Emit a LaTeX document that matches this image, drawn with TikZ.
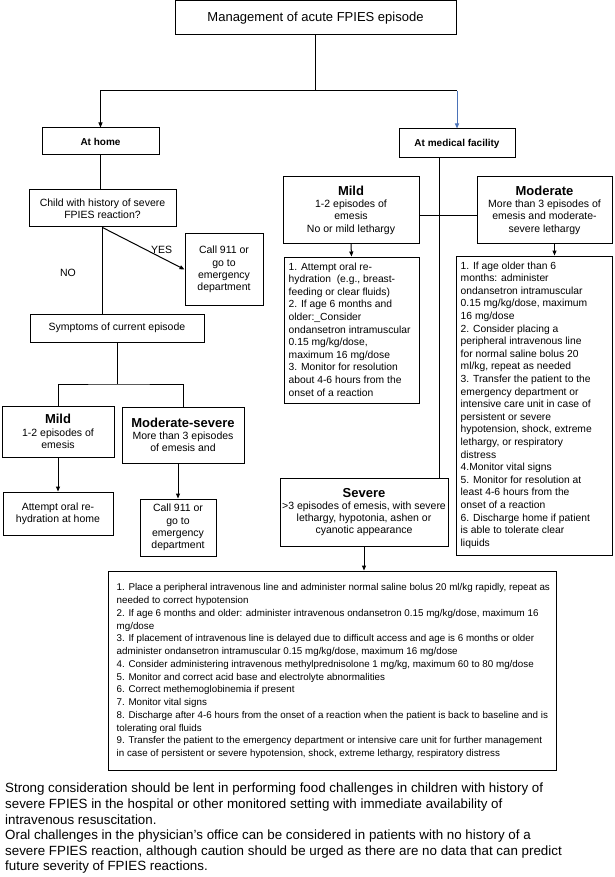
\documentclass[tikz,border=0pt]{standalone}
\usepackage{fontspec}
\setmainfont{Liberation Sans}
\usetikzlibrary{arrows.meta}
\definecolor{bluec}{HTML}{4A72B8}
\newcommand{\fsz}[2]{\fontsize{#1}{#2}\selectfont}
\newcommand{\hd}[1]{{\fsz{13}{15}\bfseries #1}}
\begin{document}
\begin{tikzpicture}[x=1pt,y=-1pt,
  bx/.style={draw, line width=1pt, align=center, inner sep=1pt, font=\fsz{10.5}{12.3}},
  lbl/.style={font=\fsz{10.5}{12.3}, inner sep=1pt},
  txt/.style={align=left, inner sep=0pt, anchor=north west, font=\fsz{10.3}{12.6}},
  ln/.style={line width=1pt},
  arr/.style={line width=1pt, -{Triangle[length=5pt,width=4pt]}}]
\useasboundingbox (0,0) rectangle (614,877);
\fill[white] (0,0) rectangle (614,877);

% top
\node[bx, minimum width=281, minimum height=34, font=\fsz{13}{15}] (title) at (315.5,18) {Management of acute FPIES episode};
\node[bx, minimum width=117, minimum height=27, font=\fsz{10}{12}\bfseries] (home) at (100.5,141.5) {At home};
\node[bx, minimum width=116, minimum height=29, font=\fsz{10}{12}\bfseries] (medical) at (457,143.5) {At medical facility};
\coordinate (hj) at (315.5,91);
\draw[ln] (title.south) -- (hj);
\draw[arr] (hj) -| (home.north);
\draw[ln] (hj) -- (hj -| medical.north);
\draw[arr, bluec] (hj -| medical.north) -- (medical.north);

% home branch
\node[bx, minimum width=147, minimum height=37] (child) at (102.5,208.5) {Child with history of severe\\FPIES reaction?};
\node[bx, minimum width=78, minimum height=71] (call1) at (224,269.5) {Call 911 or\\go to\\emergency\\department};
\node[bx, minimum width=174, minimum height=28] (symptoms) at (117,328) {Symptoms of current episode};
\draw[ln] (home.south) -- (home.south |- child.north);
\draw[ln] (child.south) -- (child.south |- symptoms.north);
\draw[arr] (child.south) -- (call1.west) node[lbl, pos=0.72, above=3pt] (yes) {YES};
\node[lbl] (no) at (68,273) {NO};

\node[bx, minimum width=112, minimum height=51] (mildh) at (58,431.5) {\hd{Mild}\\1-2 episodes of\\emesis};
\node[bx, minimum width=122, minimum height=56] (modsev) at (183,435) {\hd{Moderate-severe}\\More than 3 episodes\\of emesis and};
\node[bx, minimum width=110, minimum height=43] (attempt) at (58,513.5) {Attempt oral re-\\hydration at home};
\node[bx, minimum width=76, minimum height=57] (call2) at (178,527.5) {Call 911 or\\go to\\emergency\\department};
\coordinate (sj) at (117,384);
\draw[ln] (symptoms.south) -- (sj);
\draw[ln] (mildh.north) |- (sj) -| (modsev.north);
\draw[arr] (mildh.south) -- (attempt.north);
\draw[arr] (call2.north |- modsev.south) -- (call2.north);

% facility branch
\node[bx, minimum width=136, minimum height=66] (mildf) at (351,210) {\hd{Mild}\\1-2 episodes of\\emesis\\No or mild lethargy};
\node[bx, minimum width=135, minimum height=66] (modf) at (544.5,210) {\hd{Moderate}\\More than 3 episodes of\\emesis and moderate-\\severe lethargy};
\node[draw, line width=1pt, minimum width=135, minimum height=146, inner sep=0pt] (mildlist) at (351.5,330) {};
\node[txt] (mildlisttxt) at ([shift={(5pt,-6pt)}]mildlist.north west) {1. Attempt oral re-\\
hydration \ (e.g., breast-\\
feeding or clear fluids)\\
2. If age 6 months and\\
older:\_Consider\\
ondansetron intramuscular\\
0.15 mg/kg/dose,\\
maximum 16 mg/dose\\
3. Monitor for resolution\\
about 4-6 hours from the\\
onset of a reaction};
\node[draw, line width=1pt, minimum width=156, minimum height=299, inner sep=0pt] (modlist) at (534,405.5) {};
\node[txt] (modlisttxt) at ([shift={(5pt,-6pt)}]modlist.north west) {1. If age older than 6\\
months: administer\\
ondansetron intramuscular\\
0.15 mg/kg/dose, maximum\\
16 mg/dose\\
2. Consider placing a\\
peripheral intravenous line\\
for normal saline bolus 20\\
ml/kg, repeat as needed\\
3. Transfer the patient to the\\
emergency department or\\
intensive care unit in case of\\
persistent or severe\\
hypotension, shock, extreme\\
lethargy, or respiratory\\
distress\\
4.Monitor vital signs\\
5. Monitor for resolution at\\
least 4-6 hours from the\\
onset of a reaction\\
6. Discharge home if patient\\
is able to tolerate clear\\
liquids};
\node[bx, minimum width=168, minimum height=68] (severe) at (364,512) {\hd{Severe}\\>3 episodes of emesis, with severe\\lethargy, hypotonia, ashen or\\cyanotic appearance};
\draw[ln] ([xshift=-18pt]medical.south) -- ([xshift=-18pt]medical.south |- severe.north);
\draw[ln] ([yshift=-6pt]mildf.east) -- ([yshift=-6pt]mildf.east -| modf.west);
\draw[arr] (mildf.south) -- (mildlist.north);
\draw[arr] ([xshift=10pt]modf.south) -- ([xshift=10pt]modf.south |- modlist.north);

% bottom box
\node[draw, line width=1pt, minimum width=448, minimum height=199, inner sep=0pt] (bottom) at (332,670.5) {};
\node[txt, font=\fsz{9.8}{12.75}] (bottomtxt) at ([shift={(9pt,-13pt)}]bottom.north west) {1. Place a peripheral intravenous line and administer normal saline bolus 20 ml/kg rapidly, repeat as\\
needed to correct hypotension\\
2. If age 6 months and older: administer intravenous ondansetron 0.15 mg/kg/dose, maximum 16\\
mg/dose\\
3. If placement of intravenous line is delayed due to difficult access and age is 6 months or older\\
administer ondansetron intramuscular 0.15 mg/kg/dose, maximum 16 mg/dose\\
4. Consider administering intravenous methylprednisolone 1 mg/kg, maximum 60 to 80 mg/dose\\
5. Monitor and correct acid base and electrolyte abnormalities\\
6. Correct methemoglobinemia if present\\
7. Monitor vital signs\\
8. Discharge after 4-6 hours from the onset of a reaction when the patient is back to baseline and is\\
tolerating oral fluids\\
9. Transfer the patient to the emergency department or intensive care unit for further management\\
in case of persistent or severe hypotension, shock, extreme lethargy, respiratory distress};
\draw[arr] (severe.south) -- (severe.south |- bottom.north);

% footer
\node[txt, font=\fsz{13.35}{15.6}] (footer) at (5,783) {Strong consideration should be lent in performing food challenges in children with history of\\
severe FPIES in the hospital or other monitored setting with immediate availability of\\
intravenous resuscitation.\\
Oral challenges in the physician’s office can be considered in patients with no history of a\\
severe FPIES reaction, although caution should be urged as there are no data that can predict\\
future severity of FPIES reactions.};
\end{tikzpicture}
\end{document}
